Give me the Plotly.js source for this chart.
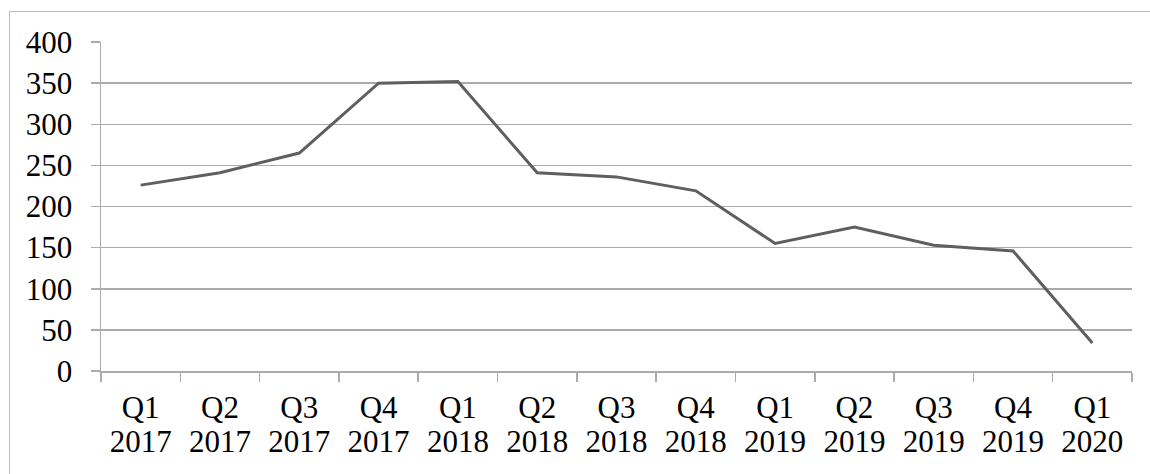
<!DOCTYPE html>
<html>
<head>
<meta charset="utf-8">
<script src="https://cdn.plot.ly/plotly-3.0.1.min.js"></script>
<style>
  html, body { margin: 0; padding: 0; background: #ffffff; overflow: hidden; }
  #chart { width: 1150px; height: 474px; position: absolute; left: 0; top: 0; }
  #frame { position: absolute; left: 9px; top: 11px; width: 3000px; height: 3000px;
           border-left: 1px solid #bdbdbd; border-top: 1px solid #bdbdbd; pointer-events: none; }
</style>
</head>
<body>
<div id="chart"></div>
<div id="frame"></div>
<script>
const quarters = ["Q1", "Q2", "Q3", "Q4", "Q1", "Q2", "Q3", "Q4", "Q1", "Q2", "Q3", "Q4", "Q1"];
const years = ["2017", "2017", "2017", "2017", "2018", "2018", "2018", "2018", "2019", "2019", "2019", "2019", "2020"];
const values = [226, 241, 265, 350, 352, 241, 236, 219, 155, 175, 153, 146, 34];
const yTicks = [0, 50, 100, 150, 200, 250, 300, 350, 400];

const categories = quarters.map((q, i) => q + " " + years[i]);
const positions = categories.map((c, i) => i);

const trace = {
  type: "scatter",
  mode: "lines",
  x: categories,
  y: values,
  line: { color: "#5f5f5f", width: 3 },
  hoverinfo: "skip"
};

const gridCol = "#ababab";
const fontFam = "Liberation Serif, Times New Roman, serif";
const tickFont = { family: fontFam, size: 31, color: "#000000" };
const layout = {
  width: 1150,
  height: 474,
  margin: { l: 101, r: 18, t: 42, b: 103, pad: 0 },
  paper_bgcolor: "#ffffff",
  plot_bgcolor: "#ffffff",
  showlegend: false,
  font: tickFont,
  xaxis: {
    type: "category",
    range: [-0.5, 12.5],
    tickson: "boundaries",
    tickmode: "array",
    tickvals: categories,
    ticktext: quarters,
    ticks: "outside",
    ticklen: 9,
    tickwidth: 1.5,
    tickcolor: gridCol,
    showgrid: false,
    showline: true,
    linecolor: gridCol,
    linewidth: 1.5,
    zeroline: false,
    ticklabelstandoff: 8,
    tickfont: tickFont
  },
  xaxis2: {
    type: "linear",
    overlaying: "x",
    anchor: "y",
    side: "bottom",
    range: [-0.5, 12.5],
    tickmode: "array",
    tickvals: positions,
    ticktext: years,
    ticks: "",
    showgrid: false,
    showline: false,
    zeroline: false,
    ticklabelstandoff: 49,
    tickfont: tickFont
  },
  yaxis: {
    range: [0, 400],
    tickmode: "array",
    tickvals: yTicks,
    ticktext: yTicks.map(String),
    ticks: "outside",
    ticklen: 9,
    tickwidth: 1.5,
    tickcolor: gridCol,
    showgrid: true,
    gridcolor: gridCol,
    gridwidth: 1.5,
    showline: true,
    linecolor: gridCol,
    linewidth: 1.5,
    zeroline: false,
    ticklabelstandoff: 12,
    tickfont: tickFont
  }
};

Plotly.newPlot("chart", [trace, { type: "scatter", mode: "none", x: [], y: [], xaxis: "x2", yaxis: "y", hoverinfo: "skip" }], layout, { displayModeBar: false, staticPlot: true });
</script>
</body>
</html>
